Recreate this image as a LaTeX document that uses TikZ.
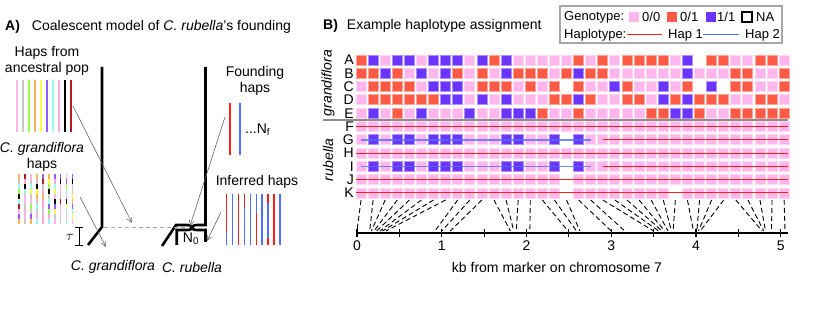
\documentclass[tikz,border=0pt]{standalone}
\usepackage{fontspec}
\setmainfont{Liberation Sans}
\usetikzlibrary{arrows.meta}

\definecolor{gt0}{RGB}{255,182,236}
\definecolor{gt1}{RGB}{255,90,70}
\definecolor{gt2}{RGB}{108,52,255}
\definecolor{hapred}{RGB}{255,30,30}
\definecolor{hapblue}{RGB}{80,110,255}
\definecolor{hc0}{RGB}{255,182,230}
\definecolor{hc1}{RGB}{200,200,200}
\definecolor{hc2}{RGB}{150,255,70}
\definecolor{hc3}{RGB}{255,178,90}
\definecolor{hc4}{RGB}{255,250,80}
\definecolor{hc5}{RGB}{145,95,255}
\definecolor{hc6}{RGB}{150,255,240}
\definecolor{hc7}{RGB}{255,170,220}
\definecolor{hc8}{RGB}{0,0,0}
\definecolor{hc9}{RGB}{180,25,35}
\definecolor{hc10}{RGB}{255,182,230}
\definecolor{hc11}{RGB}{200,200,200}
\definecolor{hc12}{RGB}{145,95,255}
\definecolor{hc13}{RGB}{150,255,240}

\begin{document}
\begin{tikzpicture}[x=1pt,y=-1pt,
  lab/.style={font=\fontsize{14}{16}\selectfont, inner sep=0pt},
  keylab/.style={font=\fontsize{13}{15}\selectfont, inner sep=0pt, anchor=west},
  tree/.style={line width=2.6pt},
  pointer/.style={draw=black!60, line width=0.6pt, -{Straight Barb[length=5pt,width=5pt]}},
  marker/.style={line width=0.9pt, dash pattern=on 5pt off 3pt}]
\useasboundingbox (0,0) rectangle (830,312);
\def\gstep{12.09}

\node[lab, anchor=west] (titleA) at (5,27) {\textbf{A)}\hspace{12pt}Coalescent model of \textit{C. rubella}'s founding};
\node[lab, align=center] (anclab) at (47,61) {Haps from\\ancestral pop};
\foreach \c [count=\i from 0] in {hc0,hc1,hc2,hc3,hc4,hc5,hc6,hc7,hc8,hc9}
  \draw[color=\c, line width=1.6pt] ({16.7+6*\i},80) -- ({16.7+6*\i},132);
\node[lab, align=center] (grlab) at (42,157) {\textit{C. grandiflora}\\haps};
\pgfmathsetseed{11}
\foreach \i in {0,...,9}
  \foreach \j in {0,...,9} {
    \pgfmathrandominteger{\k}{0}{13}
    \draw[color=hc\k, line width=1.6pt] ({19+5.95*\i},{174+5*\j}) -- ++(0,5);
  }

\draw[tree] (102,67) -- (102,227) -- (88,245);
\draw[tree] (162,246) -- (176,225) -- (187,225) .. controls (190,225) .. (192,228)
  .. controls (194,225) .. (197,225) -- (205.5,225) -- (205.5,67);
\draw[tree] (176.7,245) -- (176.7,230) -- (187,230) .. controls (190,230) .. (192,228)
  .. controls (194,230) .. (197,230) -- (205.5,230) -- (205.5,242);
\draw[gray!70, line width=0.7pt, dash pattern=on 4pt off 3pt] (104,227.5) -- (186,227.5);
\node[lab] (n0) at (191,239) {N\textsubscript{0}};
\node[lab] (tau) at (70,237) {$\tau$};
\draw[line width=1pt] (75,227.5) -- (83,227.5) (79,227.5) -- (79,246) (75,246) -- (83,246);
\node[lab] (grname) at (113,267) {\textit{C. grandiflora}};
\node[lab] (rbname) at (192,267) {\textit{C. rubella}};

\node[lab, align=center] (foundlab) at (255,81) {Founding\\haps};
\draw[hapred, line width=1.4pt] (230,103) -- (230,155);
\draw[hapblue, line width=1.4pt] (240,103) -- (240,155);
\node[lab, anchor=west] (nf) at (245,130) {...N\textsubscript{f}};
\node[lab] (inflab) at (257,182) {Inferred haps};
\foreach \x/\segs in {226.7/{hapred/194/232,hapblue/232/245}, 232.7/{hapblue/194/245},
    238.3/{hapred/194/245}, 244.3/{hapred/194/208,hapblue/208/245}, 250.3/{hapblue/194/245},
    256.3/{hapblue/194/213,hapred/213/245}, 262/{hapblue/194/245},
    268/{hapred/194/203,hapblue/203/238,hapred/238/245}, 274/{hapred/194/245}, 280/{hapblue/194/245}}
  \foreach \col/\ya/\yb in \segs
    \draw[color=\col, line width=1.4pt] (\x,\ya) -- (\x,\yb);

\coordinate (ancfrom) at (73,106);
\coordinate (ancto) at (132,223);
\coordinate (grfrom) at (80,197);
\coordinate (grto) at (106,247);
\coordinate (fdfrom) at (225,117);
\coordinate (fdto) at (190,226);
\coordinate (inffrom) at (221,212);
\coordinate (infto) at (207,241);
\draw[pointer] (ancfrom) -- (ancto);
\draw[pointer] (grfrom) -- (grto);
\draw[pointer] (fdfrom) -- (fdto);
\draw[pointer] (inffrom) -- (infto);

\node[lab, anchor=west] (titleB) at (323,26) {\textbf{B)}\hspace{9pt}Example haplotype assignment};
\draw[black!35, line width=1.3pt] (560,6) rectangle (782,43);
\node[keylab] (genokey) at (564,17) {Genotype:};
\fill[gt0] (629,12) rectangle ++(10,10);
\node[keylab] (k00) at (642,17) {0/0};
\fill[gt1] (667,12) rectangle ++(10,10);
\node[keylab] (k01) at (680,17) {0/1};
\fill[gt2] (706,12) rectangle ++(10,10);
\node[keylab] (k11) at (717,17) {1/1};
\draw[line width=1.3pt] (742,12) rectangle ++(10,10);
\node[keylab] (kna) at (756,17) {NA};
\node[keylab] (hapkey) at (564,35) {Haplotype:};
\draw[hapred, line width=1pt] (627,35) -- (662,35);
\node[keylab] (kh1) at (668,35) {Hap 1};
\draw[hapblue, line width=1pt] (703,35) -- (739,35);
\node[keylab] (kh2) at (745,35) {Hap 2};

\foreach \rw [count=\r from 0] in {
  {1,2,0,2,2,0,2,2,2,0,2,1,2,0,0,0,0,0,1,0,1,0,1,1,1,1,0,2,9,1,1,0,0,1,1,0},
  {1,1,2,1,0,2,0,2,1,0,1,0,2,1,1,1,0,1,2,1,1,0,0,0,0,0,0,2,0,0,0,1,1,0,0,1},
  {0,1,1,1,1,0,2,2,2,0,1,1,1,0,1,0,1,9,1,0,0,2,1,0,0,2,0,1,9,2,9,1,1,0,0,1},
  {0,1,1,1,1,1,1,2,2,0,2,0,2,0,0,0,1,1,2,1,0,0,1,1,0,2,1,2,1,1,1,0,0,1,1,0},
  {0,2,0,1,0,2,0,0,0,2,0,0,2,2,2,1,0,0,1,0,0,0,0,0,1,1,2,2,1,0,0,1,1,1,1,1},
  {0,0,0,0,0,0,0,0,0,0,0,0,0,0,0,0,0,0,0,0,0,0,0,0,0,0,0,0,0,0,0,0,0,0,0,0},
  {0,2,0,2,2,0,2,2,2,0,0,0,2,2,0,0,2,9,2,0,0,0,0,0,0,0,0,0,0,0,0,0,0,0,0,0},
  {0,0,0,0,0,0,0,0,0,0,0,0,0,0,0,0,0,0,0,0,0,0,0,0,0,0,0,0,0,0,0,0,0,0,0,0},
  {0,2,0,2,2,0,2,2,2,0,0,0,2,2,0,0,2,9,2,0,0,0,0,0,0,0,0,0,0,0,0,0,0,0,0,0},
  {0,0,0,0,0,0,0,0,0,0,0,0,0,0,0,0,0,9,0,0,0,0,0,0,0,0,0,0,0,0,0,0,0,0,0,0},
  {0,0,0,0,0,0,0,0,0,0,0,0,0,0,0,0,0,9,0,0,0,0,0,0,0,0,9,0,0,0,0,0,0,0,0,0}}
{
  \foreach \g [count=\c from 0] in \rw {
    \ifnum\g<3
      \ifcase\g \def\cc{gt0}\or \def\cc{gt1}\or \def\cc{gt2}\fi
      \filldraw[fill=\cc, draw=\cc!55!white, line width=0.8pt] ({356+\gstep*\c},{55+13.3*\r}) rectangle ++(10,10);
    \fi
  }
}
\foreach \l [count=\r from 0] in {A,B,C,D,E,F,G,H,I,J,K}
  \node[lab, anchor=east] (row\l) at (354,{60+13.3*\r}) {\l};
\node[lab, rotate=90] (grside) at (328,83) {\textit{grandiflora}};
\node[lab, rotate=90] (rbside) at (328,160) {\textit{rubella}};
\draw[black!45, line width=2pt] (323,120) -- (788,120);

\foreach \r in {5,7,9,10}
  \draw[hapred, line width=1pt] (356,{60+13.3*\r}) -- (788,{60+13.3*\r});
\foreach \r in {6,8} {
  \draw[hapblue, line width=1.6pt, opacity=0.8] (361,{60+13.3*\r}) -- ({361+\gstep*19},{60+13.3*\r});
  \draw[hapred, line width=1pt] ({361+\gstep*20},{60+13.3*\r}) -- (788,{60+13.3*\r});
}

\foreach \p [count=\c from 0] in {0,0.15,0.17,0.2,0.23,0.27,0.3,0.34,0.92,1.0,1.1,1.81,1.85,1.88,2.04,
    2.49,2.59,2.63,3.0,3.16,3.5,3.56,3.6,3.63,3.67,3.71,3.73,3.97,4.01,4.03,4.05,4.78,4.8,4.82,4.89,5.05}
  \draw[marker] ({361+\gstep*\c},200) -- ({357+84.75*\p},231);

\draw[line width=1.1pt] (357,233) -- (788,233);
\foreach \k in {0,0.5,...,5}
  \draw[line width=1.1pt] ({357+84.75*\k},229) -- ++(0,8);
\foreach \k in {0,...,5}
  \node[lab] (tick\k) at ({357+84.75*\k},246) {\k};
\node[lab] (xlab) at (557,267) {kb from marker on chromosome 7};
\end{tikzpicture}
\end{document}
